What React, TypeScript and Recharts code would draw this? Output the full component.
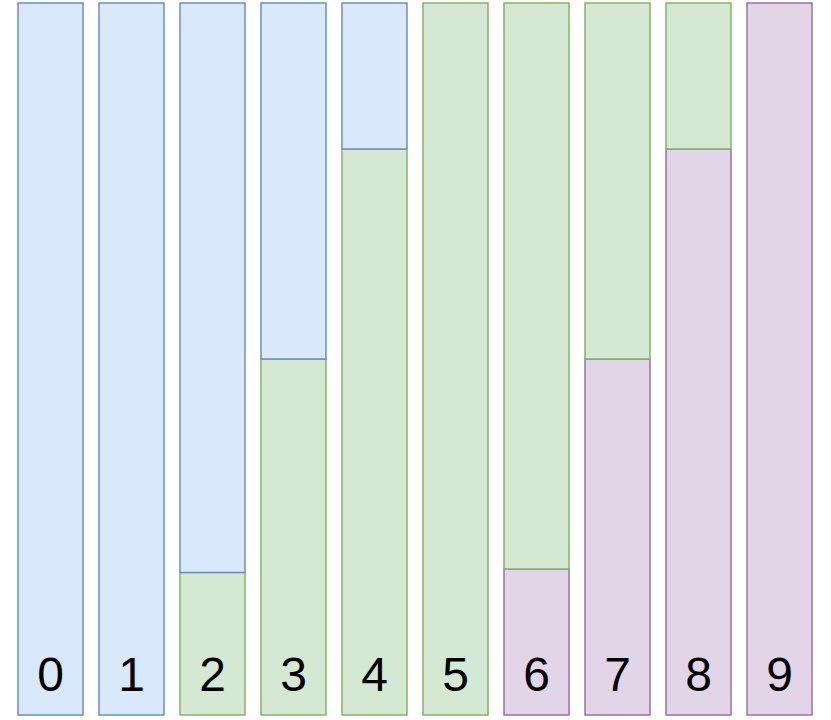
import React from "react";
import { BarChart, Bar, XAxis, YAxis } from "recharts";

const categories = ["0", "1", "2", "3", "4", "5", "6", "7", "8", "9"];
const purpleValues = [0, 0, 0, 0, 0, 0, 0.205, 0.5, 0.795, 1];
const greenValues = [0, 0, 0.2, 0.5, 0.795, 1, 0.795, 0.5, 0.205, 0];
const blueValues = [1, 1, 0.8, 0.5, 0.205, 0, 0, 0, 0, 0];

const data = categories.map((name, i) => ({
  name,
  purple: purpleValues[i],
  green: greenValues[i],
  blue: blueValues[i],
}));

const DigitTick = (props: any) => {
  const { x, y, payload } = props;
  return (
    <text
      x={x}
      y={y}
      dy={-24}
      textAnchor="middle"
      fontSize={48}
      fontFamily="Liberation Sans, Arial, sans-serif"
      fill="#000000"
    >
      {payload.value}
    </text>
  );
};

export default function App() {
  return (
    <div style={{ position: "absolute", left: 0, top: 0, width: 831, height: 720, background: "#ffffff" }}>
      <BarChart
        width={831}
        height={720}
        data={data}
        margin={{ top: 3, right: 11, left: 10, bottom: 0 }}
        barSize={65}
      >
        <XAxis
          dataKey="name"
          axisLine={false}
          tickLine={false}
          tickSize={0}
          tickMargin={0}
          height={5}
          interval={0}
          tick={<DigitTick />}
        />
        <YAxis hide domain={[0, 1]} />
        <Bar dataKey="purple" stackId="a" fill="#e1d5e7" stroke="#9673a6" strokeWidth={1.5} isAnimationActive={false} />
        <Bar dataKey="green" stackId="a" fill="#d5e8d4" stroke="#82b366" strokeWidth={1.5} isAnimationActive={false} />
        <Bar dataKey="blue" stackId="a" fill="#dae8fc" stroke="#6c8ebf" strokeWidth={1.5} isAnimationActive={false} />
      </BarChart>
    </div>
  );
}
